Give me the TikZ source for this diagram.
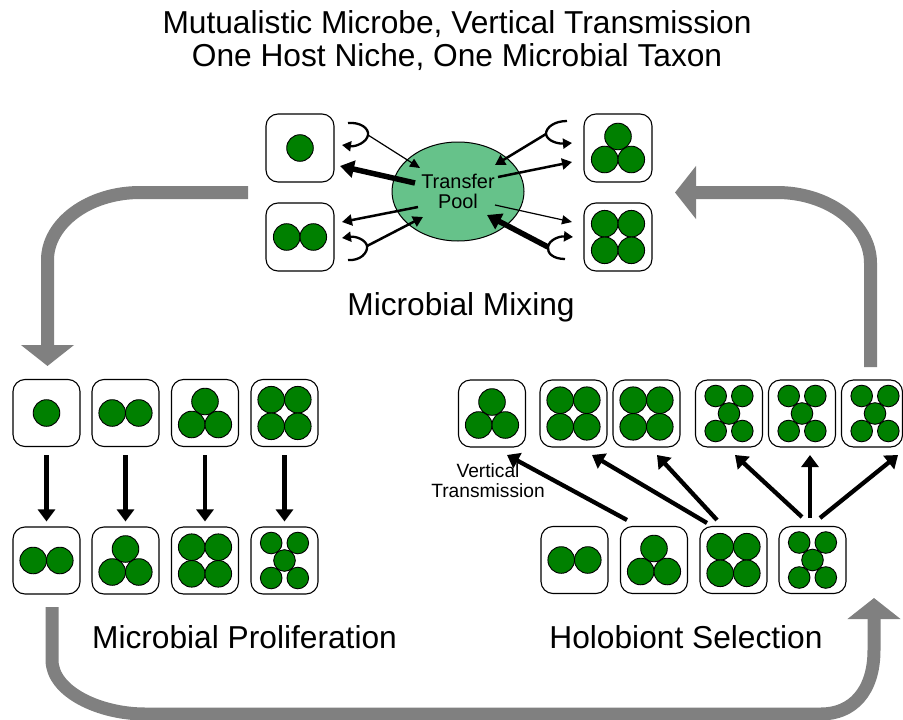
\documentclass[tikz,border=0pt]{standalone}
\usepackage{fontspec}
\setmainfont{Liberation Sans}
\usetikzlibrary{arrows.meta,shapes.geometric}
\definecolor{mgreen}{RGB}{0,128,0}
\definecolor{poolgreen}{RGB}{102,194,138}
\definecolor{flowgrey}{RGB}{128,128,128}
\begin{document}
\begin{tikzpicture}[x=1pt,y=-1pt,
  cell/.style={draw=black, line width=1.1pt, rounded corners=12pt, minimum width=67pt, minimum height=67pt, inner sep=0pt},
  mic/.style={draw=black, line width=0.9pt, fill=mgreen},
  flow/.style={draw=flowgrey, line width=13pt, -{Triangle[length=21pt,width=52pt]}},
  bigtext/.style={font=\fontsize{31.7}{33}\selectfont, anchor=base, inner sep=0pt},
  thinA/.style={line width=1.2pt, -{Triangle[length=10pt,width=9pt]}},
  medA/.style={line width=2.5pt, -{Triangle[length=10pt,width=11pt]}},
  thickA/.style={line width=5.5pt, -{Triangle[length=14pt,width=17pt]}},
  hookA/.style={line width=2.3pt, -{Triangle[length=9pt,width=10pt]}},
  blackA/.style={line width=4.3pt, -{Triangle[length=12pt,width=17pt]}},
  pics/one/.style={code={\draw[mic] (0,0) circle (13.3pt);}},
  pics/two/.style={code={\draw[mic] (-13.3,0) circle (13.3pt); \draw[mic] (13.3,0) circle (13.3pt);}},
  pics/three/.style={code={\draw[mic] (0,-11.5) circle (13.3pt); \draw[mic] (-13.3,11.5) circle (13.3pt); \draw[mic] (13.3,11.5) circle (13.3pt);}},
  pics/four/.style={code={\foreach \dx/\dy in {-13.3/-13.3,13.3/-13.3,-13.3/13.3,13.3/13.3} {\draw[mic] (\dx,\dy) circle (13.3pt);}}},
  pics/five/.style={code={\foreach \dx/\dy in {-13.3/-17.5,13.3/-17.5,-13.3/17.5,13.3/17.5} {\draw[mic] (\dx,\dy) circle (10.8pt);} \draw[mic] (0,0) circle (10.8pt);}}
]
\useasboundingbox (0,0) rectangle (903,720);

% grey cycle arrows
\coordinate (ga1) at (248,192.5);
\coordinate (ga2) at (47.5,366);
\draw[flow] (ga1) -- (140,192.5) .. controls (89,192.5) and (47.5,223) .. (47.5,260) -- (ga2);
\coordinate (gb1) at (52,607);
\coordinate (gb2) at (874,598);
\draw[flow] (gb1) -- (52,660) .. controls (52,692) and (100,714) .. (145,714) -- (821,714) .. controls (852,714) and (874,692) .. (874,650) -- (gb2);
\coordinate (gc1) at (870.5,367);
\coordinate (gc2) at (675,192.5);
\draw[flow] (gc1) -- (870.5,263) .. controls (870.5,224) and (828,192.5) .. (777,192.5) -- (gc2);

% titles
\node[bigtext] (t1) at (457,33.5) {Mutualistic Microbe, Vertical Transmission};
\node[bigtext] (t2) at (457,66) {One Host Niche, One Microbial Taxon};
\node[bigtext] (lmix) at (461,315) {Microbial Mixing};
\node[bigtext] (lpro) at (244.5,648) {Microbial Proliferation};
\node[bigtext] (lsel) at (686,648) {Holobiont Selection};

% mixing
\node[draw=black, line width=1pt, fill=poolgreen, ellipse, minimum width=132pt, minimum height=99pt, inner sep=0pt, align=center, font=\fontsize{19.9}{20}\selectfont] (pool) at (458,191.5) {Transfer\\Pool};
\node[cell, minimum width=68pt, minimum height=68pt] (MTL) at (300,148) {};
\node[cell, minimum width=68pt, minimum height=68pt] (MBL) at (300,237) {};
\node[cell, minimum width=68pt, minimum height=68pt] (MTR) at (618,148) {};
\node[cell, minimum width=68pt, minimum height=68pt] (MBR) at (618,237) {};
\pic at (MTL.center) {one};
\pic at (MBL.center) {two};
\pic at (MTR.center) {three};
\pic at (MBR.center) {four};

% hook junctions and ends
\coordinate (j1) at (368,135); \coordinate (h1a) at (348,123); \coordinate (h1b) at (342,145);
\coordinate (j2) at (367,246); \coordinate (h2a) at (348,260); \coordinate (h2b) at (342,238);
\coordinate (j3) at (546,134); \coordinate (h3a) at (567,121); \coordinate (h3b) at (572,143);
\coordinate (j4) at (548,247); \coordinate (h4a) at (565,259); \coordinate (h4b) at (573,237);
\draw[hookA] (h1a) .. controls (360,122) and (369,128) .. (j1) .. controls (367,142) and (356,147) .. (h1b);
\draw[hookA] (h2a) .. controls (360,261) and (368,253) .. (j2) .. controls (366,240) and (356,236) .. (h2b);
\draw[hookA] (h3a) .. controls (555,121) and (546,127) .. (j3) .. controls (547,141) and (558,144) .. (h3b);
\draw[hookA] (h4a) .. controls (553,259) and (547,253) .. (j4) .. controls (549,240) and (559,236) .. (h4b);

\coordinate (p1) at (420,168); \coordinate (p2) at (415,183); \coordinate (p3) at (418,207); \coordinate (p4) at (423,217);
\coordinate (p5) at (495,165); \coordinate (p6) at (498,177); \coordinate (p7) at (495,205); \coordinate (p8) at (487,215);
\coordinate (b2) at (340,166); \coordinate (b3) at (342,222); \coordinate (b6) at (572,162); \coordinate (b7) at (572,222);
\draw[thinA] (j1) -- (p1);
\draw[thickA] (p2) -- (b2);
\draw[medA] (p3) -- (b3);
\draw[medA] (j2) -- (p4);
\draw[medA] (j3) -- (p5);
\draw[medA] (p6) -- (b6);
\draw[thinA] (p7) -- (b7);
\draw[thickA] (j4) -- (p8);

% proliferation
\foreach \n/\x/\a/\b in {1/46.5/one/two, 2/125.5/two/three, 3/205/three/four, 4/284.5/four/five} {
  \node[cell] (T\n) at (\x,413) {};
  \node[cell] (B\n) at (\x,560.5) {};
  \pic at (T\n.center) {\a};
  \pic at (B\n.center) {\b};
  \draw[blackA, shorten <=8pt, shorten >=5pt] (T\n) -- (B\n);
}

% selection
\foreach \n/\x/\a in {1/492/three, 2/573.5/four, 3/646.5/four, 4/729/five, 5/802/five} {
  \node[cell] (S\n) at (\x,413.5) {};
  \pic at (S\n.center) {\a};
}
\node[cell, minimum width=61pt] (S6) at (872,413.5) {};
\pic at (875,413.5) {five};
\foreach \n/\x/\a in {1/574.5/two, 2/654/three, 3/733.5/four, 4/812.5/five} {
  \node[cell] (R\n) at (\x,560) {};
  \pic at (R\n.center) {\a};
}
\coordinate (v1s) at (627,520); \coordinate (v1e) at (507,455);
\coordinate (v2s) at (707,523); \coordinate (v2e) at (592,455);
\coordinate (v3s) at (717,520); \coordinate (v3e) at (657,455);
\coordinate (v4s) at (802,517); \coordinate (v4e) at (735,455);
\coordinate (v5s) at (810,518); \coordinate (v5e) at (810,455);
\coordinate (v6s) at (820,518); \coordinate (v6e) at (898,455);
\foreach \k in {1,...,6} {\draw[blackA] (v\k s) -- (v\k e);}
\node[align=center, font=\fontsize{19.2}{20}\selectfont, anchor=base, inner sep=0pt] (vt) at (488,497.7) {Vertical\\Transmission};
\end{tikzpicture}
\end{document}
